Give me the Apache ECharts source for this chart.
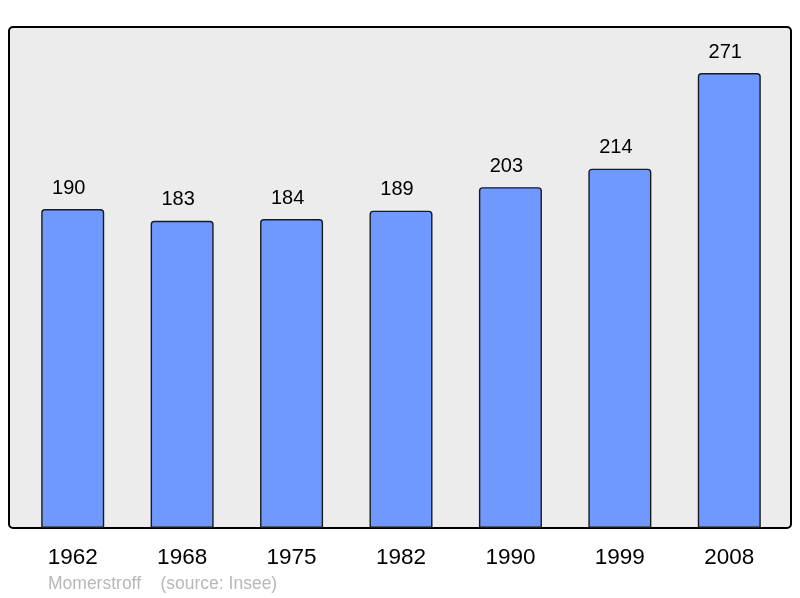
<!DOCTYPE html>
<html>
<head>
<meta charset="utf-8">
<script src="https://cdn.jsdelivr.net/npm/echarts@6/dist/echarts.min.js"></script>
<style>
  html, body { margin: 0; padding: 0; background: #fff; }
  #chart { width: 800px; height: 598px; }
</style>
</head>
<body>
<div id="chart"></div>
<script>
const years = ['1962', '1968', '1975', '1982', '1990', '1999', '2008'];
const population = [190, 183, 184, 189, 203, 214, 271];
const footer = 'Momerstroff    (source: Insee)';

const chart = echarts.init(document.getElementById('chart'));

const option = {
  animation: false,
  textStyle: { fontFamily: 'Liberation Sans, Arial, sans-serif' },
  graphic: [
    {
      type: 'rect',
      z: -10,
      shape: { x: 9, y: 27, width: 782, height: 501, r: 4 },
      style: { fill: '#ececec', stroke: '#000', lineWidth: 2 },
    },
    {
      type: 'text',
      left: 48,
      top: 575,
      style: {
        text: footer,
        fill: '#b8b8b8',
        fontSize: 17.5,
        fontFamily: 'Liberation Sans, Arial, sans-serif',
      },
    },
  ],
  grid: { left: 18, top: 27, width: 766, height: 501 },
  xAxis: {
    type: 'category',
    data: years,
    axisLine: { show: false },
    axisTick: { show: false },
    axisLabel: { color: '#000', fontSize: 22.5, margin: 18 },
  },
  yAxis: {
    type: 'value',
    min: 0,
    max: 298.4,
    show: false,
    splitLine: { show: false },
  },
  series: [
    {
      type: 'bar',
      data: population,
      barWidth: 63,
      itemStyle: {
        color: '#7099ff',
        borderColor: '#1a1a1a',
        borderWidth: 1.4,
        borderRadius: [3, 3, 0, 0],
      },
      label: {
        show: true,
        position: 'top',
        distance: 11,
        offset: [-4, 0],
        color: '#000',
        fontSize: 20,
      },
    },
  ],
};

chart.setOption(option);
</script>
</body>
</html>
